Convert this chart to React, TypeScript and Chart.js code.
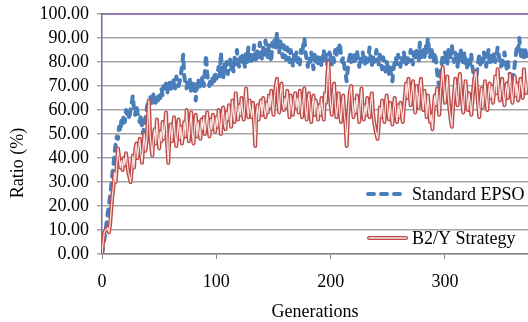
import React, { useEffect, useRef } from "react";
import { Chart, registerables } from "chart.js";

Chart.register(...registerables);

// Generation index = position in the arrays (0, 1, 2, ...)
const xTicks = [0, 100, 200, 300];
const yTickStep = 10;

const seriesNames = ["Standard EPSO", "B2/Y Strategy"];

// Standard EPSO ratio (%) per generation
const standardEPSO = [
  0, 3, 6, 9, 13, 17, 20, 24, 28, 33,
  37, 42, 46, 49, 48, 53, 51, 56, 54, 58,
  55, 60, 57, 59, 56, 61, 63, 66, 60, 58,
  62, 59, 57, 55, 58, 53, 50, 54, 57, 60,
  63, 61, 66, 64, 62, 67, 65, 63, 66, 64,
  67, 65, 69, 66, 70, 68, 71, 67, 69, 72,
  70, 68, 71, 73, 69, 74, 71, 70, 72, 75,
  78, 83, 74, 71, 69, 72, 70, 73, 67, 71,
  68, 72, 64, 70, 73, 71, 69, 72, 74, 70,
  76, 83, 75, 72, 70, 73, 71, 74, 72, 76,
  73, 75, 78, 74, 84, 77, 73, 79, 76, 80,
  75, 78, 81, 77, 80, 76, 82, 79, 85, 80,
  78, 82, 79, 83, 81, 78, 84, 80, 86, 82,
  79, 84, 81, 87, 83, 80, 85, 82, 88, 84,
  81, 86, 83, 89, 85, 82, 87, 84, 80, 88,
  85, 90, 86, 92, 88, 84, 89, 85, 82, 87,
  84, 81, 86, 83, 80, 85, 82, 78, 83, 81,
  84, 80, 82, 79, 85, 83, 87, 90, 84, 81,
  78, 82, 80, 84, 81, 77, 83, 80, 82, 79,
  83, 81, 78, 82, 85, 80, 83, 79, 81, 84,
  82, 79, 83, 80, 85, 82, 86, 84, 88, 83,
  80, 82, 78, 75, 72, 77, 81, 83, 80, 84,
  82, 79, 83, 85, 81, 78, 82, 80, 84, 81,
  79, 83, 80, 82, 86, 81, 78, 83, 80, 82,
  85, 81, 79, 83, 80, 77, 82, 79, 76, 80,
  78, 75, 79, 74, 72, 77, 80, 82, 79, 83,
  81, 78, 82, 80, 84, 81, 79, 83, 80, 82,
  85, 82, 79, 84, 81, 86, 83, 80, 88, 84,
  82, 85, 81, 87, 84, 90, 85, 82, 86, 83,
  80, 84, 81, 76, 72, 70, 75, 79, 83, 80,
  84, 82, 79, 85, 81, 83, 87, 82, 80, 84,
  81, 78, 83, 80, 85, 82, 79, 84, 81, 77,
  80, 82, 79, 83, 78, 75, 72, 71, 76, 80,
  83, 79, 82, 80, 84, 81, 78, 82, 85, 80,
  83, 79, 81, 84, 80, 82, 86, 83, 80, 78,
  82, 79, 84, 81, 77, 80, 76, 74, 72, 71,
  75, 79, 83, 87, 85, 90, 84, 81, 85, 82,
  86, 83, 80,
];

// B2/Y Strategy ratio (%) per generation
const b2yStrategy = [
  0, 5, 9, 10, 10, 11, 9, 12, 18, 24,
  28, 34, 30, 38, 44, 40, 36, 39, 35, 40,
  37, 42, 38, 34, 32, 30, 35, 41, 36, 43,
  46, 40, 44, 48, 42, 38, 45, 50, 43, 47,
  55, 64, 50, 45, 41, 48, 52, 46, 56, 49,
  44, 51, 47, 55, 48, 53, 59, 45, 38, 50,
  54, 47, 52, 57, 49, 45, 51, 56, 48, 53,
  46, 50, 55, 49, 60, 52, 47, 54, 59, 50,
  46, 53, 58, 49, 55, 51, 48, 56, 52, 57,
  50, 54, 59, 53, 49, 56, 52, 58, 54, 51,
  57, 53, 60, 55, 50, 58, 61, 54, 52, 59,
  56, 62, 57, 53, 64, 58, 55, 67, 60, 56,
  62, 58, 65, 59, 56, 63, 69, 61, 57, 64,
  60, 57, 63, 55, 45, 58, 62, 56, 61, 64,
  58, 65, 60, 57, 63, 59, 66, 61, 68, 62,
  58, 66, 70, 73, 64, 59, 67, 71, 63, 60,
  65, 61, 68, 63, 57, 66, 62, 58, 64, 67,
  61, 65, 59, 68, 62, 57, 64, 69, 60, 56,
  63, 67, 60, 55, 62, 66, 58, 64, 61, 56,
  62, 58, 65, 60, 56, 67, 63, 74, 80, 68,
  62, 58, 66, 71, 63, 57, 61, 67, 59, 55,
  62, 66, 58, 54, 45, 56, 63, 68, 70, 62,
  57, 64, 59, 66, 61, 55, 63, 69, 60, 56,
  62, 58, 65, 60, 57, 63, 67, 59, 55, 52,
  50, 48, 53, 61, 57, 64, 59, 55, 62, 66,
  60, 56, 63, 58, 54, 61, 65, 59, 55, 62,
  57, 63, 60, 55, 61, 66, 71, 65, 73, 67,
  62, 68, 72, 64, 59, 70, 66, 61, 69, 73,
  65, 60, 68, 63, 57, 66, 61, 55, 58, 52,
  60, 66, 62, 69, 64, 58, 67, 72, 78, 70,
  63, 68, 74, 65, 60, 56, 53, 61, 67, 73,
  66, 62, 70, 75, 68, 63, 59, 66, 72, 65,
  60, 67, 63, 58, 64, 70, 74, 76, 68, 62,
  57, 64, 69, 61, 66, 72, 64, 60, 67, 71,
  65, 70, 63, 68, 74, 67, 77, 70, 64, 69,
  73, 66, 62, 68, 71, 65, 70, 75, 67, 63,
  69, 74, 66, 71, 64, 68, 73, 70, 65, 77,
  71, 67, 72,
];

const FONT = "'Liberation Serif', 'Times New Roman', serif";
const BLUE = "#4a7ebb";
const RED = "#be4b48";
const RED_INNER = "#f7e4e3";
const PURPLE = "#8064a2";
const GRID = "#a6a6a6";
const AXIS_GRAY = "#868686";

const decorPlugin = {
  id: "decor",
  afterDraw(chart: any) {
    const ctx = chart.ctx as CanvasRenderingContext2D;
    const area = chart.chartArea;
    ctx.save();
    // top plot-area border
    ctx.strokeStyle = PURPLE;
    ctx.lineWidth = 1.5;
    ctx.beginPath();
    ctx.moveTo(area.left, area.top);
    ctx.lineTo(area.right, area.top);
    ctx.stroke();

    ctx.fillStyle = "#000";
    ctx.font = `18px ${FONT}`;
    ctx.textBaseline = "middle";

    // legend: Standard EPSO
    ctx.save();
    ctx.strokeStyle = BLUE;
    ctx.lineWidth = 4;
    ctx.lineCap = "round";
    ctx.setLineDash([6, 7]);
    ctx.beginPath();
    ctx.moveTo(368, 194);
    ctx.lineTo(404, 194);
    ctx.stroke();
    ctx.restore();
    ctx.textAlign = "left";
    ctx.fillText(seriesNames[0], 412, 195);

    // legend: B2/Y Strategy (double line)
    ctx.save();
    ctx.lineCap = "round";
    ctx.strokeStyle = RED;
    ctx.lineWidth = 4;
    ctx.beginPath();
    ctx.moveTo(369, 238);
    ctx.lineTo(406, 238);
    ctx.stroke();
    ctx.strokeStyle = RED_INNER;
    ctx.lineWidth = 1.3;
    ctx.beginPath();
    ctx.moveTo(369, 238);
    ctx.lineTo(406, 238);
    ctx.stroke();
    ctx.restore();
    ctx.fillText(seriesNames[1], 412, 239);

    // axis titles
    ctx.textAlign = "center";
    ctx.fillText("Generations", 315, 312);
    ctx.save();
    ctx.translate(18, 163);
    ctx.rotate(-Math.PI / 2);
    ctx.fillText("Ratio (%)", 0, 0);
    ctx.restore();

    ctx.restore();
  },
};

export default function App() {
  const canvasRef = useRef<HTMLCanvasElement | null>(null);

  useEffect(() => {
    const canvas = canvasRef.current;
    if (!canvas) return;
    const toPoints = (arr: number[]) => arr.map((v, i) => ({ x: i, y: v }));
    const chart = new Chart(canvas, {
      type: "line",
      data: {
        datasets: [
          {
            label: seriesNames[1] + " inner",
            data: toPoints(b2yStrategy),
            borderColor: RED_INNER,
            borderWidth: 1.2,
            borderJoinStyle: "round",
            pointRadius: 0,
            tension: 0,
            fill: false,
          },
          {
            label: seriesNames[1],
            data: toPoints(b2yStrategy),
            borderColor: RED,
            borderWidth: 4,
            borderJoinStyle: "round",
            pointRadius: 0,
            tension: 0,
            fill: false,
          },
          {
            label: seriesNames[0],
            data: toPoints(standardEPSO),
            borderColor: BLUE,
            borderWidth: 4,
            borderDash: [6, 7],
            borderCapStyle: "round",
            borderJoinStyle: "round",
            pointRadius: 0,
            tension: 0,
            fill: false,
          },
        ],
      },
      options: {
        responsive: false,
        animation: false,
        events: [],
        layout: { padding: { top: 14, right: 0, left: 0, bottom: 0 } },
        plugins: {
          legend: { display: false },
          tooltip: { enabled: false },
          title: { display: false },
        },
        scales: {
          x: {
            type: "linear",
            min: 0,
            max: 372.6,
            afterBuildTicks: (scale: any) => {
              scale.ticks = xTicks.map((v) => ({ value: v }));
            },
            afterFit: (scale: any) => {
              scale.height = 68;
              scale.paddingLeft = 0;
              scale.paddingRight = 0;
            },
            ticks: {
              includeBounds: false,
              stepSize: 100,
              autoSkip: false,
              color: "#000",
              font: { family: FONT, size: 18 },
              padding: 12,
              maxRotation: 0,
            },
            grid: {
              drawOnChartArea: false,
              drawTicks: true,
              tickLength: 5,
              color: AXIS_GRAY,
            },
            border: { display: true, color: AXIS_GRAY, width: 1.5 },
          },
          y: {
            min: 0,
            max: 100,
            afterFit: (scale: any) => {
              scale.width = 102;
              scale.paddingTop = 0;
              scale.paddingBottom = 0;
            },
            ticks: {
              stepSize: yTickStep,
              autoSkip: false,
              color: "#000",
              font: { family: FONT, size: 18 },
              padding: 8,
              callback: (v: any) => Number(v).toFixed(2),
            },
            grid: {
              color: GRID,
              lineWidth: 1.5,
              tickLength: 5,
            },
            border: { display: true, color: PURPLE, width: 1.5 },
          },
        },
      },
      plugins: [decorPlugin],
    });
    return () => chart.destroy();
  }, []);

  return (
    <div style={{ position: "absolute", left: 0, top: 0, width: 528, height: 322, background: "#fff" }}>
      <canvas ref={canvasRef} width={528} height={322} style={{ display: "block" }} />
    </div>
  );
}
